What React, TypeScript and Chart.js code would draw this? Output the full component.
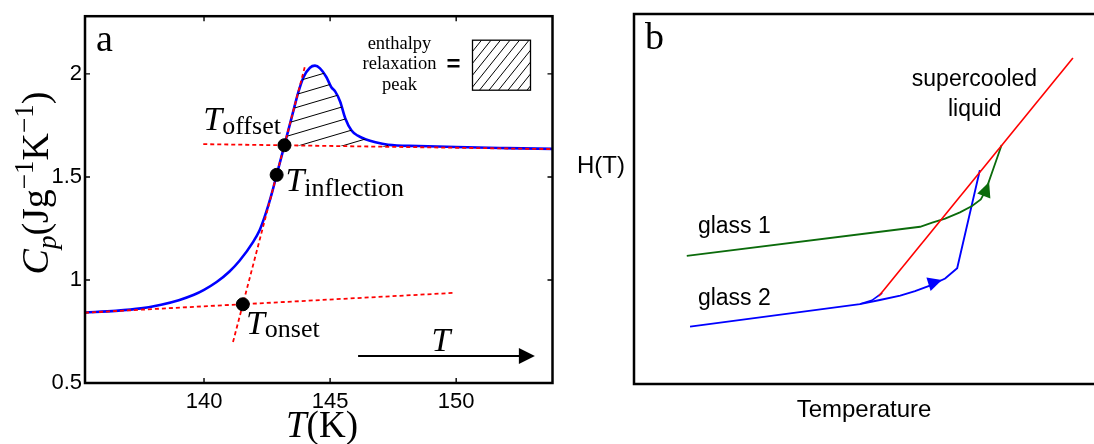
import { useEffect, useRef } from "react";
import { Chart, registerables } from "chart.js";

Chart.register(...registerables);

// ---------- Panel a: heat capacity scan through the glass transition ----------
const T_K = [
  135.28, 136.5, 137.5, 138.3, 139.0, 139.6, 140.0, 140.5, 141.0, 141.4, 141.95, 142.2,
  142.4, 142.55, 142.7, 142.88, 143.19, 143.5, 143.75, 143.95, 144.2, 144.4, 144.6, 144.85,
  145.05, 145.2, 145.4, 145.6, 145.85, 146.1, 146.4, 146.8, 147.3, 148.5, 150.0, 152.0, 153.82,
];
const CP = [
  0.842, 0.85, 0.862, 0.88, 0.902, 0.928, 0.952, 0.99, 1.04, 1.092, 1.185, 1.24,
  1.305, 1.362, 1.425, 1.51, 1.654, 1.80, 1.915, 1.985, 2.03, 2.04, 2.027, 1.985,
  1.935, 1.915, 1.865, 1.785, 1.725, 1.7, 1.683, 1.668, 1.656, 1.65, 1.645, 1.64, 1.636,
];
const T_TICKS = [140, 145, 150];
const CP_TICKS = [0.5, 1, 1.5, 2];
const T_MIN = 135.28;
const T_MAX = 153.82;
const CP_MIN = 0.5;
const CP_MAX = 2.28;

// Tangent constructions
const GLASS_BASE_T = [135.28, 149.93];
const GLASS_BASE_CP = [0.841, 0.9375];
const STEP_TAN_T = [141.15, 144.02];
const STEP_TAN_CP = [0.699, 2.045];
const LIQ_BASE_T = [139.97, 153.82];
const LIQ_BASE_CP = [1.659, 1.635];

// Characteristic temperatures
const MARK_NAMES = ["onset", "inflection", "offset"];
const MARK_T = [141.54, 142.88, 143.19];
const MARK_CP = [0.882, 1.51, 1.654];

// Upper end of the hatched overshoot area
const PEAK_END_T = 147.3;

// ---------- Panel b: enthalpy schematic ----------
const LIQ_X = [52.9, 94.8];
const LIQ_H = [23.8, 88.1];
const GLASS1_X = [11.4, 61.8, 64.4, 67.2, 70.4, 73.0, 74.9, 76.0, 79.4];
const GLASS1_H = [34.6, 42.5, 43.6, 44.7, 46.4, 48.1, 49.9, 52.4, 64.6];
const GLASS2_X = [12.1, 48.8, 53.1, 57.5, 60.7, 63.9, 67.2, 69.8, 74.7];
const GLASS2_H = [15.5, 21.6, 22.7, 23.9, 25.1, 26.6, 28.5, 31.3, 57.8];
const GLASS2_BRANCH_X = [48.8, 51.4, 53.6];
const GLASS2_BRANCH_H = [21.6, 22.6, 24.6];

const SERIF = '"Liberation Serif", "DejaVu Serif", serif';
const SANS = '"Liberation Sans", Arial, sans-serif';

const pts = (xs: number[], ys: number[]) => xs.map((x, i) => ({ x, y: ys[i] }));

type Run = { t: string; f: string; dy?: number };

function runsWidth(ctx: CanvasRenderingContext2D, runs: Run[]) {
  let w = 0;
  for (const r of runs) {
    ctx.font = r.f;
    w += ctx.measureText(r.t).width;
  }
  return w;
}

function drawRuns(ctx: CanvasRenderingContext2D, runs: Run[], x: number, y: number) {
  let cx = x;
  for (const r of runs) {
    ctx.font = r.f;
    ctx.fillText(r.t, cx, y + (r.dy || 0));
    cx += ctx.measureText(r.t).width;
  }
}

function hatchPattern(w: number, h: number, lw: number) {
  const c = document.createElement("canvas");
  c.width = w;
  c.height = h;
  const g = c.getContext("2d")!;
  g.strokeStyle = "#000";
  g.lineWidth = lw;
  g.beginPath();
  for (const k of [-1, 0, 1]) {
    g.moveTo(-w, 2 * h + k * h);
    g.lineTo(2 * w, -h + k * h);
  }
  g.stroke();
  const p = document.createElement("canvas").getContext("2d")!.createPattern(c, "repeat");
  return p as CanvasPattern;
}

function arrowHead(
  ctx: CanvasRenderingContext2D,
  tx: number, ty: number, fx: number, fy: number,
  len: number, half: number, color: string,
) {
  const a = Math.atan2(ty - fy, tx - fx);
  ctx.save();
  ctx.translate(tx, ty);
  ctx.rotate(a);
  ctx.beginPath();
  ctx.moveTo(0, 0);
  ctx.lineTo(-len, -half);
  ctx.lineTo(-len, half);
  ctx.closePath();
  ctx.fillStyle = color;
  ctx.fill();
  ctx.restore();
}

// Label anchors for panel a (data coordinates of the text baseline start)
const A_LABELS = [
  { name: "onset", t: 141.66, cp: 0.74, dy: 3 },
  { name: "inflection", t: 143.23, cp: 1.433, dy: 5 },
  { name: "offset", t: 139.97, cp: 1.726, dy: 4 },
];

const panelAOverlay = {
  id: "panelAOverlay",
  afterDraw(chart: any) {
    const { ctx, chartArea: ca, scales } = chart;
    const x = scales.x;
    const y = scales.y;
    ctx.save();
    ctx.fillStyle = "#000";
    ctx.strokeStyle = "#000";

    // frame
    ctx.lineWidth = 2.5;
    ctx.strokeRect(ca.left, ca.top, ca.right - ca.left, ca.bottom - ca.top);

    // inward tick marks on all four sides
    ctx.lineWidth = 1.4;
    ctx.beginPath();
    for (const v of T_TICKS) {
      const px = x.getPixelForValue(v);
      ctx.moveTo(px, ca.bottom);
      ctx.lineTo(px, ca.bottom - 5);
      ctx.moveTo(px, ca.top);
      ctx.lineTo(px, ca.top + 5);
    }
    for (const v of CP_TICKS) {
      const py = y.getPixelForValue(v);
      ctx.moveTo(ca.left, py);
      ctx.lineTo(ca.left + 5, py);
      ctx.moveTo(ca.right, py);
      ctx.lineTo(ca.right - 5, py);
    }
    ctx.stroke();

    // panel letter
    ctx.textBaseline = "alphabetic";
    ctx.textAlign = "left";
    ctx.font = `38px ${SERIF}`;
    ctx.fillText("a", ca.left + 11, ca.top + 35);

    // T_onset / T_inflection / T_offset
    for (const l of A_LABELS) {
      drawRuns(
        ctx,
        [
          { t: "T", f: `italic 34px ${SERIF}` },
          { t: l.name, f: `26px ${SERIF}`, dy: l.dy },
        ],
        x.getPixelForValue(l.t),
        y.getPixelForValue(l.cp),
      );
    }

    // heating direction arrow
    const ay = y.getPixelForValue(0.631);
    const ax0 = x.getPixelForValue(146.11);
    const ax1 = x.getPixelForValue(153.12);
    ctx.lineWidth = 2;
    ctx.beginPath();
    ctx.moveTo(ax0, ay);
    ctx.lineTo(ax1 - 12, ay);
    ctx.stroke();
    arrowHead(ctx, ax1, ay, ax0, ay, 16, 8, "#000");
    ctx.font = `italic 34px ${SERIF}`;
    ctx.fillText("T", x.getPixelForValue(149.02), y.getPixelForValue(0.654));

    // legend: enthalpy relaxation peak = hatched box
    ctx.textAlign = "center";
    ctx.font = `18.5px ${SERIF}`;
    const lx = ca.right - 153;
    ctx.fillText("enthalpy", lx, ca.top + 33);
    ctx.fillText("relaxation", lx, ca.top + 53);
    ctx.fillText("peak", lx, ca.top + 74);
    ctx.lineWidth = 2.6;
    ctx.beginPath();
    ctx.moveTo(ca.right - 105, ca.top + 44);
    ctx.lineTo(ca.right - 93, ca.top + 44);
    ctx.moveTo(ca.right - 105, ca.top + 50);
    ctx.lineTo(ca.right - 93, ca.top + 50);
    ctx.stroke();
    const bx = ca.right - 80;
    const by = ca.top + 24;
    const bw = 58;
    const bh = 50;
    ctx.save();
    ctx.beginPath();
    ctx.rect(bx, by, bw, bh);
    ctx.clip();
    ctx.lineWidth = 1;
    ctx.beginPath();
    for (let sx = bx - bh; sx < bx + bw + 10; sx += 9.5) {
      ctx.moveTo(sx, by + bh);
      ctx.lineTo(sx + bh * 0.8, by);
    }
    ctx.stroke();
    ctx.restore();
    ctx.lineWidth = 1.3;
    ctx.strokeRect(bx, by, bw, bh);

    // axis titles
    ctx.textAlign = "left";
    const xt: Run[] = [
      { t: "T", f: `italic 37px ${SERIF}` },
      { t: "(K)", f: `37px ${SERIF}` },
    ];
    const xw = runsWidth(ctx, xt);
    drawRuns(ctx, xt, 322 - xw / 2, 437);

    const yt: Run[] = [
      { t: "C", f: `italic 38px ${SERIF}` },
      { t: "p", f: `italic 27px ${SERIF}`, dy: 8 },
      { t: "(Jg", f: `38px ${SERIF}` },
      { t: "\u22121", f: `27px ${SERIF}`, dy: -15 },
      { t: "K", f: `38px ${SERIF}` },
      { t: "\u22121", f: `27px ${SERIF}`, dy: -15 },
      { t: ")", f: `38px ${SERIF}` },
    ];
    const yw = runsWidth(ctx, yt);
    ctx.save();
    ctx.translate(ca.left - 37, 183);
    ctx.rotate(-Math.PI / 2);
    drawRuns(ctx, yt, -yw / 2, 0);
    ctx.restore();

    ctx.restore();
  },
};

const panelBOverlay = {
  id: "panelBOverlay",
  afterDraw(chart: any) {
    const { ctx, chartArea: ca, scales } = chart;
    const x = scales.x;
    const y = scales.y;
    const px = (v: number) => x.getPixelForValue(v);
    const py = (v: number) => y.getPixelForValue(v);
    ctx.save();
    ctx.strokeStyle = "#000";
    ctx.fillStyle = "#000";
    ctx.lineWidth = 2.5;
    ctx.strokeRect(ca.left, ca.top, ca.right - ca.left, ca.bottom - ca.top);

    // heating arrows on the two glass curves
    arrowHead(ctx, px(66.5), py(28.1), px(63.2), py(26.8), 14, 7, "#0000ff");
    arrowHead(ctx, px(76.7), py(54.6), px(75.4), py(50.3), 15, 7, "#0b6b0b");

    ctx.textAlign = "left";
    ctx.textBaseline = "alphabetic";
    ctx.font = `38px ${SERIF}`;
    ctx.fillText("b", ca.left + 11, ca.top + 35);

    ctx.font = `23px ${SANS}`;
    ctx.fillText("glass 1", px(13.8), py(40.7));
    ctx.fillText("glass 2", px(13.8), py(21.4));
    ctx.fillText("supercooled", px(60.0), py(80.5));
    ctx.fillText("liquid", px(67.8), py(72.4));

    ctx.font = `24px ${SANS}`;
    ctx.fillText("H(T)", ca.left - 57, 173);
    ctx.textAlign = "center";
    ctx.fillText("Temperature", ca.left + 230, 417);
    ctx.restore();
  },
};

export default function App() {
  const aRef = useRef<HTMLCanvasElement>(null);
  const bRef = useRef<HTMLCanvasElement>(null);

  useEffect(() => {
    const curve = pts(T_K, CP);
    const overshoot = curve.filter((p) => p.x >= MARK_T[2] && p.x <= PEAK_END_T);
    const dash = [4, 3];
    const red = "#ff0000";
    const tickFont = { family: SANS, size: 22 };

    const chartA = new Chart(aRef.current!, {
      type: "line",
      data: {
        datasets: [
          {
            label: "marks",
            data: pts(MARK_T, MARK_CP),
            showLine: false,
            pointRadius: 6.5,
            pointBackgroundColor: "#000",
            pointBorderColor: "#000",
          },
          {
            label: "glass baseline",
            data: pts(GLASS_BASE_T, GLASS_BASE_CP),
            borderColor: red,
            borderWidth: 1.8,
            borderDash: dash,
          },
          {
            label: "step tangent",
            data: pts(STEP_TAN_T, STEP_TAN_CP),
            borderColor: red,
            borderWidth: 1.8,
            borderDash: dash,
          },
          {
            label: "liquid baseline",
            data: pts(LIQ_BASE_T, LIQ_BASE_CP),
            borderColor: red,
            borderWidth: 1.8,
            borderDash: dash,
          },
          {
            label: "relaxation peak",
            data: overshoot,
            borderColor: "rgba(0,0,0,0)",
            borderWidth: 0,
            cubicInterpolationMode: "monotone",
            backgroundColor: hatchPattern(44, 13, 1),
            fill: { target: 3 },
          },
          {
            label: "Cp",
            data: curve,
            borderColor: "#0000ff",
            borderWidth: 2.6,
            cubicInterpolationMode: "monotone",
          },
        ],
      },
      options: {
        animation: false,
        responsive: false,
        events: [],
        layout: { padding: { top: 13, right: 4, left: 0, bottom: 0 } },
        elements: { point: { radius: 0 } },
        plugins: { legend: { display: false }, tooltip: { enabled: false } },
        scales: {
          x: {
            type: "linear",
            min: T_MIN,
            max: T_MAX,
            grid: { display: false, drawTicks: false },
            border: { display: false },
            ticks: {
              font: tickFont,
              color: "#000",
              padding: 6,
              maxRotation: 0,
              autoSkip: false,
              callback: (v: any) => String(v),
            },
            afterBuildTicks: (s: any) => {
              s.ticks = T_TICKS.map((value) => ({ value }));
            },
            afterFit: (s: any) => {
              s.height = 61;
            },
          },
          y: {
            type: "linear",
            min: CP_MIN,
            max: CP_MAX,
            grid: { display: false, drawTicks: false },
            border: { display: false },
            ticks: {
              font: tickFont,
              color: "#000",
              padding: 3,
              autoSkip: false,
              callback: (v: any) => String(v),
            },
            afterBuildTicks: (s: any) => {
              s.ticks = CP_TICKS.map((value) => ({ value }));
            },
            afterFit: (s: any) => {
              s.width = 85;
            },
          },
        },
      },
      plugins: [panelAOverlay],
    } as any);

    const chartB = new Chart(bRef.current!, {
      type: "line",
      data: {
        datasets: [
          {
            label: "supercooled liquid",
            data: pts(LIQ_X, LIQ_H),
            borderColor: red,
            borderWidth: 1.6,
          },
          {
            label: "glass 1",
            data: pts(GLASS1_X, GLASS1_H),
            borderColor: "#0b6b0b",
            borderWidth: 1.8,
          },
          {
            label: "glass 2",
            data: pts(GLASS2_X, GLASS2_H),
            borderColor: "#0000ff",
            borderWidth: 1.9,
          },
          {
            label: "glass 2 cooling",
            data: pts(GLASS2_BRANCH_X, GLASS2_BRANCH_H),
            borderColor: "#0000ff",
            borderWidth: 1.6,
          },
        ],
      },
      options: {
        animation: false,
        responsive: false,
        events: [],
        layout: { padding: { top: 14, right: 23, left: 74, bottom: 60 } },
        elements: { point: { radius: 0 } },
        plugins: { legend: { display: false }, tooltip: { enabled: false } },
        scales: {
          x: { type: "linear", min: 0, max: 100, display: false },
          y: { type: "linear", min: 0, max: 100, display: false },
        },
      },
      plugins: [panelBOverlay],
    } as any);

    return () => {
      chartA.destroy();
      chartB.destroy();
    };
  }, []);

  return (
    <div
      style={{
        position: "fixed",
        left: 0,
        top: 0,
        width: 1094,
        height: 444,
        overflow: "hidden",
        background: "#fff",
      }}
    >
      <canvas
        ref={aRef}
        width={560}
        height={444}
        style={{ position: "absolute", left: 0, top: 0, width: 560, height: 444 }}
      />
      <canvas
        ref={bRef}
        width={560}
        height={444}
        style={{ position: "absolute", left: 560, top: 0, width: 560, height: 444 }}
      />
    </div>
  );
}
